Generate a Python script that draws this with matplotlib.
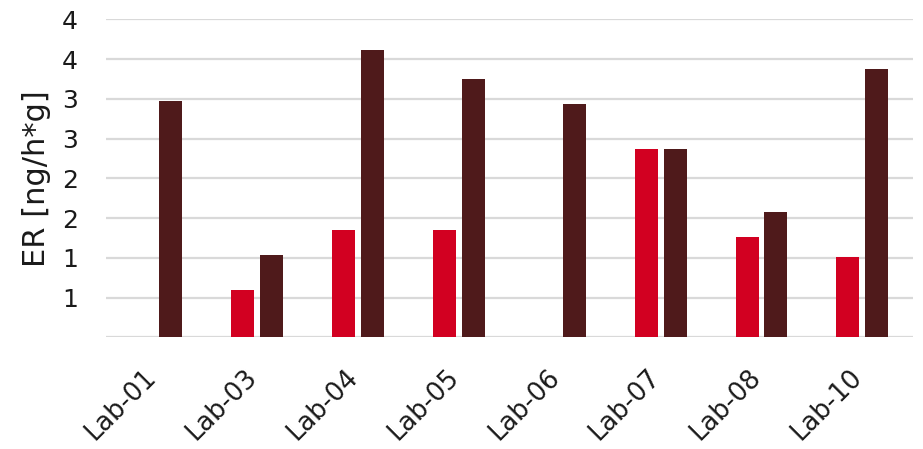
import matplotlib
matplotlib.use("Agg")
import matplotlib.pyplot as plt
import matplotlib.transforms as mtransforms
import numpy as np
from matplotlib.ticker import FuncFormatter

labs = ["Lab-01", "Lab-03", "Lab-04", "Lab-05", "Lab-06", "Lab-07", "Lab-08", "Lab-10"]
series_a = [np.nan, 0.60, 1.35, 1.35, np.nan, 2.37, 1.26, 1.01]
series_b = [2.97, 1.04, 3.61, 3.25, 2.94, 2.37, 1.58, 3.38]
y_ticks = [0, 0.5, 1.0, 1.5, 2.0, 2.5, 3.0, 3.5, 4.0]

red = "#D20021"
dark = "#4F1A1B"
grid = "#D9D9D9"
text_col = "#1A1A1A"

plt.rcParams["font.family"] = ["DejaVu Sans"]

fig = plt.figure(figsize=(9.23, 4.49), dpi=100)
ax = fig.add_axes([0.1148, 0.2488, 0.8742, 0.7078])

x = np.arange(len(labs))
w = 0.228
off = 0.143
ax.bar(x - off, series_a, width=w, color=red, zorder=3)
ax.bar(x + off, series_b, width=w, color=dark, zorder=3)

ax.set_xlim(-0.5, len(labs) - 0.5)
ax.set_ylim(0, 4)
ax.set_yticks(y_ticks)


def fmt(v, pos):
    if v == 0:
        return ""
    return str(int(np.floor(v + 0.5)))


ax.yaxis.set_major_formatter(FuncFormatter(fmt))
ax.grid(axis="y", color=grid, linewidth=1.6, zorder=0)
for s in ax.spines.values():
    s.set_visible(False)
ax.tick_params(axis="both", length=0, colors=text_col)
ax.tick_params(axis="y", pad=20, labelsize=18)
ax.set_xticks(x)
ax.set_xticklabels(labs, rotation=45, ha="right", va="center", rotation_mode="anchor")
ax.tick_params(axis="x", pad=26, labelsize=18.5)
shift = mtransforms.ScaledTranslation(-4 / 100, 0, fig.dpi_scale_trans)
for lbl in ax.get_xticklabels():
    lbl.set_transform(lbl.get_transform() + shift)
ax.set_ylabel("ER [ng/h*g]", fontsize=22, color=text_col)
ax.yaxis.set_label_coords(-0.068, 0.5)

fig.savefig("out.png", dpi=100)
